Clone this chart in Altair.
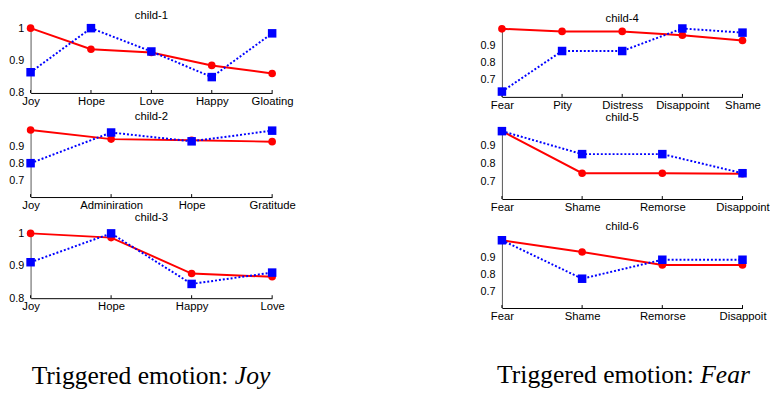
import altair as alt
import pandas as pd

# ---------------- data ----------------
child1_cats = ["Joy", "Hope", "Love", "Happy", "Gloating"]
child1_red = [1.0, 0.935, 0.925, 0.885, 0.86]
child1_blue = [0.864, 1.0, 0.928, 0.849, 0.984]

child2_cats = ["Joy", "Adminiration", "Hope", "Gratitude"]
child2_red = [0.996, 0.942, 0.935, 0.927]
child2_blue = [0.80, 0.981, 0.929, 0.992]

child3_cats = ["Joy", "Hope", "Happy", "Love"]
child3_red = [1.0, 0.987, 0.876, 0.866]
child3_blue = [0.911, 1.0, 0.844, 0.879]

child4_cats = ["Fear", "Pity", "Distress", "Disappoint", "Shame"]
child4_red = [0.996, 0.981, 0.981, 0.959, 0.928]
child4_blue = [0.631, 0.867, 0.867, 0.998, 0.974]

child5_cats = ["Fear", "Shame", "Remorse", "Disappoint"]
child5_red = [0.984, 0.746, 0.746, 0.743]
child5_blue = [0.984, 0.854, 0.854, 0.746]

child6_cats = ["Fear", "Shame", "Remorse", "Disappoit"]
child6_red = [1.0, 0.931, 0.854, 0.854]
child6_blue = [1.0, 0.773, 0.885, 0.885]

ticks_a = [0.8, 0.9, 1.0]
ticks_b = [0.7, 0.8, 0.9]
domain_a = [0.8, 1.0]
domain_b = [0.6, 1.0]

caption_prefix = ["Triggered emotion:", "Triggered emotion:"]
caption_words = ["Joy", "Fear"]

FONT = "Liberation Sans"
CAP_SIZE = 26


def panel(title, cats, red, blue, yticks, ydomain, w, h, caption=None, toff=4):
    n = len(cats)
    d_red = pd.DataFrame({"cat": cats, "val": red, "i": list(range(n))})
    d_blue = pd.DataFrame({"cat": cats, "val": blue, "i": list(range(n))})
    X = alt.X("cat:N", sort=cats,
              scale=alt.Scale(type="point", padding=0),
              axis=alt.Axis(title=None, labelAngle=0, ticks=False,
                            domainColor="black", labelFontSize=11.5,
                            labelPadding=3, labelColor="black"))
    Y = alt.Y("val:Q",
              scale=alt.Scale(domain=ydomain, nice=False, zero=False),
              axis=alt.Axis(title=None, values=yticks, format=".1~f",
                            ticks=False, grid=False, domainColor="#555",
                            labelPadding=7, labelFontSize=11,
                            labelColor="black"))
    base_r = alt.Chart(d_red).encode(x=X, y=Y, order="i:Q")
    base_b = alt.Chart(d_blue).encode(x=X, y=Y, order="i:Q")
    layers = [
        alt.Chart(pd.DataFrame({"cat": cats})).mark_rule(color="black", strokeWidth=1)
        .encode(x=X, y=alt.value(h), y2=alt.value(h - 3)),
        base_r.mark_line(color="#ff0000", strokeWidth=2),
        base_r.mark_point(shape="circle", filled=True, size=60, color="#ff0000", opacity=1),
        base_b.mark_line(color="#0000ff", strokeWidth=2, strokeDash=[2, 2]),
        base_b.mark_point(shape="square", filled=True, size=75, color="#0000ff", opacity=1),
    ]
    if caption is not None:
        prefix, word, cx, cy = caption
        layers.append(
            alt.Chart(pd.DataFrame({"t": [prefix]})).mark_text(
                font="Liberation Serif", fontSize=CAP_SIZE, align="right",
                baseline="alphabetic", color="black")
            .encode(text="t:N", x=alt.value(cx - 6.5), y=alt.value(cy)))
        layers.append(
            alt.Chart(pd.DataFrame({"t": [word]})).mark_text(
                font="Liberation Serif", fontSize=CAP_SIZE, align="left",
                fontStyle="italic", baseline="alphabetic", color="black")
            .encode(text="t:N", x=alt.value(cx), y=alt.value(cy)))
    return alt.layer(*layers).properties(
        width=w, height=h,
        title=alt.TitleParams(title, fontSize=11.5, font=FONT,
                              fontWeight="normal", offset=toff, anchor="middle",
                              color="black"))


WL = 246
WR = 245
p1 = panel("child-1", child1_cats, child1_red, child1_blue, ticks_a, domain_a, WL, 66, toff=1)
p2 = panel("child-2", child2_cats, child2_red, child2_blue, ticks_b, domain_b, WL, 69)
p3 = panel("child-3", child3_cats, child3_red, child3_blue, ticks_a, domain_a, WL, 66,
           caption=(caption_prefix[0], caption_words[0], 208, 153))
p4 = panel("child-4", child4_cats, child4_red, child4_blue, ticks_b, domain_b, WR, 70, toff=0)
p5 = panel("child-5", child5_cats, child5_red, child5_blue, ticks_b, domain_b, WR, 72)
p6 = panel("child-6", child6_cats, child6_red, child6_blue, ticks_b, domain_b, WR, 69,
           caption=(caption_prefix[1], caption_words[1], 202, 145))

left = alt.vconcat(alt.vconcat(p1, p2, spacing=3), p3, spacing=0)
right = alt.vconcat(alt.vconcat(p4, p5, spacing=0), p6, spacing=7)

chart = (
    alt.hconcat(left, right, spacing=187)
    .properties(padding={"top": -2, "left": 0, "right": 0, "bottom": 0})
    .configure_view(stroke=None)
    .configure_axis(labelFont=FONT, domainWidth=1)
)

chart.save("out.html", embed_options={"renderer": "svg", "actions": False})
